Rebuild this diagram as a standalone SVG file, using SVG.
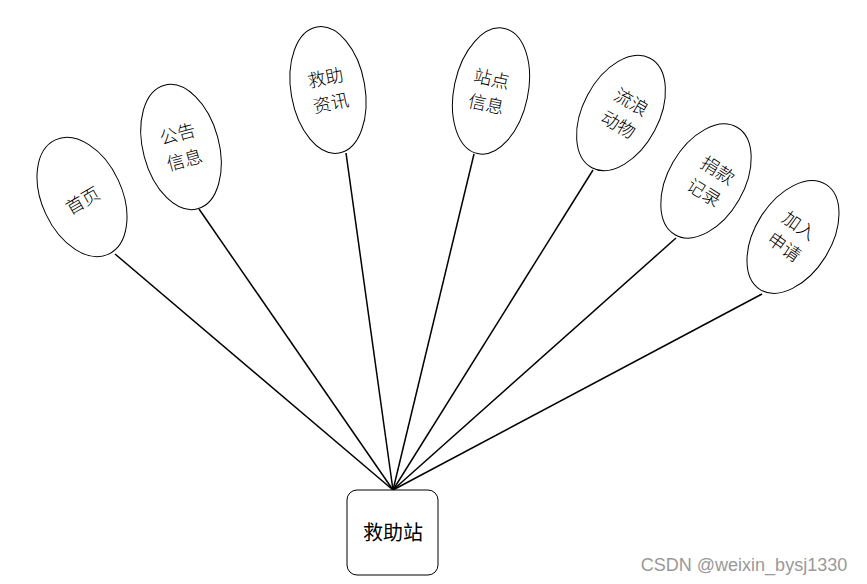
<svg xmlns="http://www.w3.org/2000/svg" width="867" height="584" viewBox="0 0 867 584">
<style>
.e{fill:#fff;stroke:#000;stroke-width:1}
.t{font-family:"Noto Sans CJK SC",sans-serif;font-size:18px;font-weight:300;fill:#000;text-anchor:middle}
.c line{stroke:#000;stroke-width:1.5}
</style>
<rect width="867" height="584" fill="#fff"/>
<g class="c" id="connectors">
<line x1="115" y1="254" x2="393" y2="490"/>
<line x1="199" y1="209" x2="393" y2="490"/>
<line x1="346" y1="153" x2="393" y2="490"/>
<line x1="474" y1="154" x2="393" y2="490"/>
<line x1="593" y1="170" x2="393" y2="490"/>
<line x1="676" y1="238" x2="393" y2="490"/>
<line x1="762" y1="294" x2="393" y2="490"/>
</g>
<g id="n1"><ellipse class="e" cx="82" cy="197" rx="40" ry="63" transform="rotate(-25 82 197)"/>
<text class="t" transform="translate(83 201) rotate(-30)" y="6">首页</text></g>
<g id="n2"><ellipse class="e" cx="181" cy="147" rx="38" ry="64" transform="rotate(-15 181 147)"/>
<text class="t" transform="translate(181 147) rotate(-15)"><tspan x="0" y="-7">公告</tspan><tspan x="0" y="20">信息</tspan></text></g>
<g id="n3"><ellipse class="e" cx="328" cy="90" rx="37" ry="64" transform="rotate(-10 328 90)"/>
<text class="t" transform="translate(328 90) rotate(-12)"><tspan x="0" y="-6">救助</tspan><tspan x="0" y="20">资讯</tspan></text></g>
<g id="n4"><ellipse class="e" cx="491" cy="91" rx="37" ry="64" transform="rotate(12 491 91)"/>
<text class="t" transform="translate(489 91) rotate(12)"><tspan x="0" y="-6">站点</tspan><tspan x="0" y="20">信息</tspan></text></g>
<g id="n5"><ellipse class="e" cx="621" cy="113" rx="38" ry="62" transform="rotate(28 621 113)"/>
<text class="t" transform="translate(625 113) rotate(30)"><tspan x="0" y="-6">流浪</tspan><tspan x="0" y="20">动物</tspan></text></g>
<g id="n6"><ellipse class="e" cx="706" cy="181" rx="38" ry="62" transform="rotate(30 706 181)"/>
<text class="t" transform="translate(711 181) rotate(32)"><tspan x="0" y="-6">捐款</tspan><tspan x="0" y="20">记录</tspan></text></g>
<g id="n7"><ellipse class="e" cx="793" cy="237" rx="38" ry="62" transform="rotate(32 793 237)"/>
<text class="t" transform="translate(792 236) rotate(35)"><tspan x="0" y="-6">加入</tspan><tspan x="0" y="20">申请</tspan></text></g>
<g id="center"><rect x="347" y="490" width="91" height="85" rx="10" fill="#fff" stroke="#000" stroke-width="1"/>
<text x="393" y="540" font-family="'Noto Sans CJK SC',sans-serif" font-size="20" text-anchor="middle">救助站</text></g>
<text x="744" y="571" font-family="'Liberation Sans',Arial,sans-serif" font-size="18" fill="#999" text-anchor="middle">CSDN @weixin_bysj1330</text>
</svg>
